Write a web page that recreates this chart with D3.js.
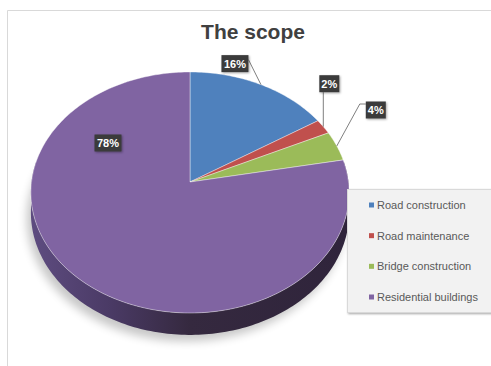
<!DOCTYPE html>
<html>
<head>
<meta charset="utf-8">
<script src="https://cdn.jsdelivr.net/npm/d3@7"></script>
<style>
  body { margin: 0; background: #fff; }
  svg { display: block; font-family: "Liberation Sans", Arial, sans-serif; }
</style>
</head>
<body>
<svg id="chart" width="491" height="366"></svg>
<script>
const categories = ["Road construction", "Road maintenance", "Bridge construction", "Residential buildings"];
const shares = [16, 2, 4, 78];
const labelTexts = ["16%", "2%", "4%", "78%"];
const colors = ["#4f81bd", "#c0504d", "#9bbb59", "#8064a2"];

const svg = d3.select("#chart");
const width = 491, height = 366;

// perspective pie geometry
const cx = 190, cy = 182;
const R = 158.5, RC = 119.6, P = 0.087, H = 20;

function proj(a, r, drop) {
    r = r === undefined ? 1 : r;
    drop = drop || 0;
    const u = r * Math.sin(a), v = -r * Math.cos(a);
    const s = 1 / (1 - P * v);
    return [cx + R * u * s, cy + RC * v * s + drop * s];
}

const defs = svg.append("defs");
const blur = defs.append("filter").attr("id", "blur").attr("x", "-20%").attr("y", "-20%").attr("width", "140%").attr("height", "140%");
blur.append("feGaussianBlur").attr("stdDeviation", 5);

const ds = defs.append("filter").attr("id", "ds").attr("x", "-30%").attr("y", "-30%").attr("width", "160%").attr("height", "160%");
ds.append("feDropShadow").attr("dx", 1).attr("dy", 1).attr("stdDeviation", 1.2).attr("flood-color", "#000").attr("flood-opacity", 0.35);

const sideGrad = defs.append("linearGradient").attr("id", "side")
    .attr("gradientUnits", "userSpaceOnUse")
    .attr("x1", cx - R).attr("x2", cx + R).attr("y1", 0).attr("y2", 0);
sideGrad.append("stop").attr("offset", "0%").attr("stop-color", "#5e4c80");
sideGrad.append("stop").attr("offset", "25%").attr("stop-color", "#4a3a65");
sideGrad.append("stop").attr("offset", "50%").attr("stop-color", "#35293f");
sideGrad.append("stop").attr("offset", "100%").attr("stop-color", "#2f243b");

// chart frame
svg.append("path")
    .attr("d", `M7.5,${height} V10.5 H${width}`)
    .attr("fill", "none")
    .attr("stroke", "#d9d9d9");

// title
svg.append("text")
    .attr("x", 253).attr("y", 39)
    .attr("text-anchor", "middle")
    .attr("font-size", 21).attr("font-weight", "bold")
    .attr("fill", "#404040")
    .text("The scope");

const pie = d3.pie().sort(null).value(d => d);
const arcs = pie(shares);

const line = d3.line();

function outline(a0, a1, drop) {
    const n = Math.max(2, Math.ceil((a1 - a0) / 0.02));
    return d3.range(n + 1).map(i => proj(a0 + (a1 - a0) * i / n, 1, drop));
}

// soft shadow under pie
const shadowPts = outline(0, 2 * Math.PI, 0).concat(outline(Math.PI * 0.5, Math.PI * 1.5, H).reverse());
svg.append("path")
    .attr("d", line(outline(0, 2 * Math.PI, H + 4)) + "Z")
    .attr("transform", "translate(-4,2)")
    .attr("fill", "#000").attr("opacity", 0.22)
    .attr("filter", "url(#blur)");

// side wall (front half)
const s0 = Math.PI * 80 / 180, s1 = Math.PI * 280 / 180;
arcs.forEach((d, i) => {
    const a0 = Math.max(d.startAngle, s0), a1 = Math.min(d.endAngle, s1);
    if (a1 <= a0) return;
    const pts = outline(a0, a1, 0).concat(outline(a0, a1, H).reverse());
    svg.append("path")
        .attr("d", line(pts) + "Z")
        .attr("fill", i === 3 ? "url(#side)" : d3.color(colors[i]).darker(1.2));
});

// top faces
svg.selectAll(".slice")
    .data(arcs)
    .join("path")
    .attr("class", "slice")
    .attr("d", d => line([[cx, cy]].concat(outline(d.startAngle, d.endAngle, 0))) + "Z")
    .attr("fill", (d, i) => colors[i])
    .attr("stroke", "#ffffff")
    .attr("stroke-opacity", 0.5)
    .attr("stroke-width", 0.8)
    .attr("stroke-linejoin", "round");

// data labels (box center offset from the slice edge at its mid angle)
const labelLayout = [
    { dx: -26, dy: -21, lead: "right" },
    { dx: 6, dy: -43, lead: "bottom" },
    { dx: 39, dy: -36, lead: "left" },
    { x: 108, y: 143, lead: "none" }
];

arcs.forEach((d, i) => {
    const mid = (d.startAngle + d.endAngle) / 2;
    const anchor = proj(mid, 1, 0);
    const lay = labelLayout[i];
    const bx = lay.x !== undefined ? lay.x : anchor[0] + lay.dx;
    const by = lay.y !== undefined ? lay.y : anchor[1] + lay.dy;
    const w = labelTexts[i].length * 7 + 6, h = 17;

    let lead = null;
    if (lay.lead === "right") lead = [[bx + w / 2, by - 4], anchor];
    if (lay.lead === "bottom") lead = [[anchor[0], by + h / 2], anchor];
    if (lay.lead === "left") lead = [[bx - w / 2, by - 6], [bx - w / 2 - 6, by - 6], anchor];
    if (lead) {
        svg.append("path")
            .attr("d", line(lead))
            .attr("fill", "none")
            .attr("stroke", "#7f7f7f")
            .attr("stroke-width", 1);
    }

    svg.append("rect")
        .attr("x", bx - w / 2).attr("y", by - h / 2)
        .attr("width", w).attr("height", h)
        .attr("fill", "#3b3b3b")
        .attr("filter", "url(#ds)");
    svg.append("text")
        .attr("x", bx).attr("y", by + 4)
        .attr("text-anchor", "middle")
        .attr("font-size", 11).attr("font-weight", "bold")
        .attr("fill", "#ffffff")
        .text(labelTexts[i]);
});

// legend
const legend = svg.append("g");
legend.append("rect")
    .attr("x", 347.5).attr("y", 189.5)
    .attr("width", 160).attr("height", 123)
    .attr("fill", "#f2f2f2")
    .attr("stroke", "#d9d9d9")
    .attr("filter", "url(#ds)");

const ly = d3.scalePoint().domain(categories).range([205, 297]);

legend.selectAll(".sw")
    .data(categories)
    .join("rect")
    .attr("class", "sw")
    .attr("x", 369).attr("y", d => ly(d) - 2.5)
    .attr("width", 5).attr("height", 5)
    .attr("fill", (d, i) => colors[i]);

legend.selectAll(".lt")
    .data(categories)
    .join("text")
    .attr("class", "lt")
    .attr("x", 377).attr("y", d => ly(d) + 4)
    .attr("font-size", 11)
    .attr("fill", "#595959")
    .text(d => d);
</script>
</body>
</html>
